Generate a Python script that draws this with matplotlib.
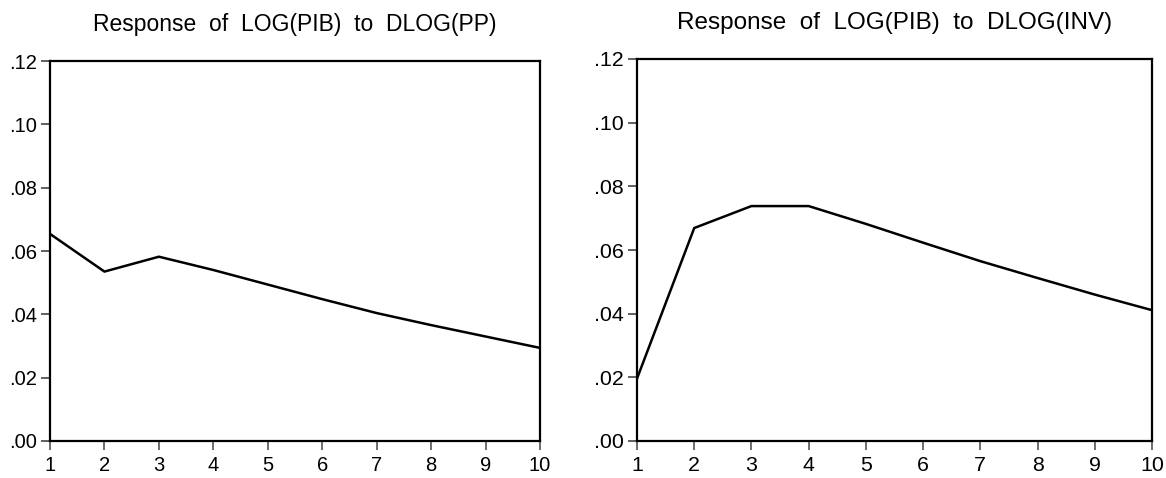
import matplotlib
matplotlib.use("Agg")
import matplotlib.pyplot as plt
from matplotlib.ticker import FuncFormatter

plt.rcParams['font.family'] = ['Liberation Sans', 'DejaVu Sans']

periods = [1, 2, 3, 4, 5, 6, 7, 8, 9, 10]
resp_pp = [0.0654, 0.0535, 0.0582, 0.0540, 0.0494, 0.0448, 0.0404, 0.0366, 0.0330, 0.0294]
resp_inv = [0.0196, 0.0669, 0.0738, 0.0738, 0.0682, 0.0623, 0.0565, 0.0512, 0.0460, 0.0411]
titles = ["Response  of  LOG(PIB)  to  DLOG(PP)", "Response  of  LOG(PIB)  to  DLOG(INV)"]
yticks = [0.00, 0.02, 0.04, 0.06, 0.08, 0.10, 0.12]

fig = plt.figure(figsize=(11.66, 4.78), dpi=100)
ax1 = fig.add_axes([50/1166, 1-441/478, 490/1166, 380/478])
ax2 = fig.add_axes([637/1166, 1-441/478, 515/1166, 382/478])

fmt = FuncFormatter(lambda v, p: ("%.2f" % v).lstrip("0") if v >= 0 else "%.2f" % v)

for ax, data, title, sc in [(ax1, resp_pp, titles[0], 1.0), (ax2, resp_inv, titles[1], 1.06)]:
    ax.plot(periods, data, color='black', lw=1.8, solid_joinstyle='miter')
    ax.set_xlim(1, 10)
    ax.set_ylim(0, 0.12)
    ax.set_xticks(periods)
    ax.set_yticks(yticks)
    ax.yaxis.set_major_formatter(fmt)
    for s in ax.spines.values():
        s.set_linewidth(1.6)
        s.set_color('black')
    ax.tick_params(axis='y', direction='out', length=6.5, width=1.2, color='#444444',
                   labelsize=14.5 * sc, pad=3)
    ax.tick_params(axis='x', direction='out', length=6.5, width=1.2, color='#555555',
                   labelsize=14.5 * sc, pad=4)
    ax.set_title(title, fontsize=16.5 * sc, pad=21.5)

fig.savefig("out.png", dpi=100)
